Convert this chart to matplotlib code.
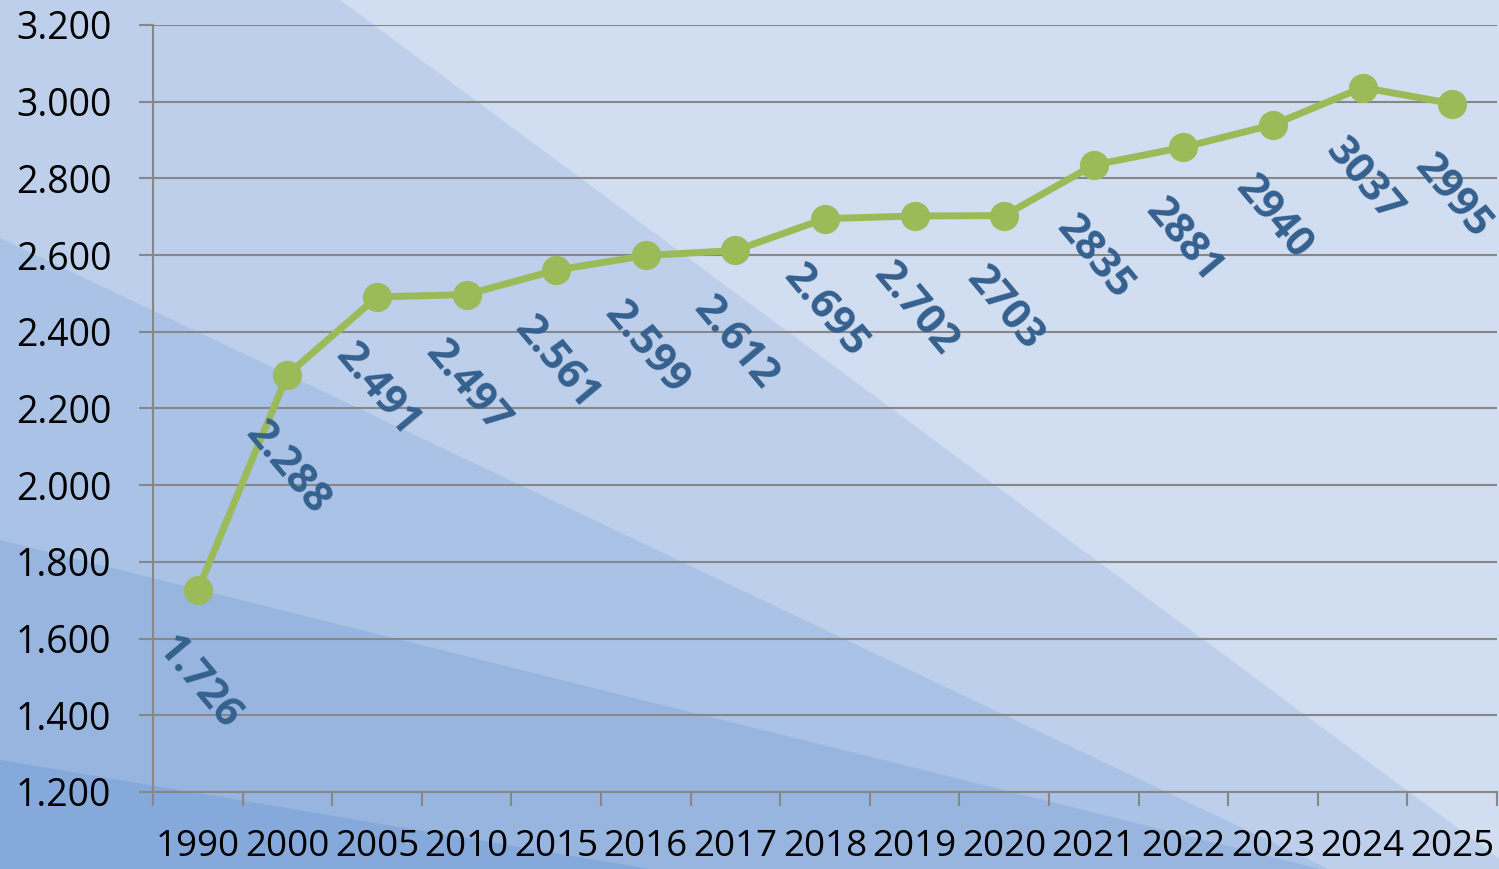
import matplotlib.pyplot as plt
from matplotlib.patches import Polygon
from matplotlib.ticker import FuncFormatter, FixedLocator

# Data
years = ['1990', '2000', '2005', '2010', '2015', '2016', '2017', '2018',
         '2019', '2020', '2021', '2022', '2023', '2024', '2025']
values = [1726, 2288, 2491, 2497, 2561, 2599, 2612, 2695,
          2702, 2703, 2835, 2881, 2940, 3037, 2995]
point_labels = ['1.726', '2.288', '2.491', '2.497', '2.561', '2.599', '2.612', '2.695',
                '2.702', '2703', '2835', '2881', '2940', '3037', '2995']

W, H = 1499, 869
fig = plt.figure(figsize=(W / 100, H / 100), dpi=100)

# Diagonal background bands, drawn in a full-figure axes (pixel coords, y down)
bg = fig.add_axes([0, 0, 1, 1], zorder=-1)
bg.set_xlim(0, W)
bg.set_ylim(H, 0)
bg.axis('off')
bands = [
    ('#d1ddf0', [(0, 0), (W, 0), (W, H), (0, H)]),
    ('#bdcfea', [(0, 0), (340, 0), (1513, H), (0, H)]),
    ('#a9c2e6', [(0, 238), (W, 950), (0, 950)]),
    ('#97b5de', [(0, 540), (1320, H), (0, H)]),
    ('#85a9da', [(0, 760), (650, H), (0, H)]),
]
for color, pts in bands:
    bg.add_patch(Polygon(pts, closed=True, facecolor=color, edgecolor='none'))

ax = fig.add_axes([153 / W, 1 - 792 / H, (1497 - 153) / W, (792 - 25) / H])
ax.set_facecolor('none')

x = range(len(years))
ax.plot(x, values, color='#9bbb59', linewidth=5, marker='o', markersize=20,
        zorder=3, clip_on=False)

for i, (v, lab) in enumerate(zip(values, point_labels)):
    ax.annotate(lab, (i, v), xytext=(0, -67), textcoords='offset points',
                ha='center', va='center', rotation=-50, rotation_mode='anchor',
                fontsize=30, fontweight='bold', color='#35618f',
                family='Open Sans', zorder=4)

ax.set_xlim(-0.5, len(years) - 0.5)
ax.set_ylim(1200, 3200)
ax.set_yticks(range(1200, 3201, 200))
ax.yaxis.set_major_formatter(FuncFormatter(lambda v, p: f'{v:,.0f}'.replace(',', '.')))
ax.grid(axis='y', color='#878787', linewidth=1.5)
ax.set_axisbelow(True)

ax.set_xticks(list(x))
ax.set_xticklabels(years)
ax.xaxis.set_minor_locator(FixedLocator([i - 0.5 for i in range(len(years) + 1)]))
ax.tick_params(axis='x', which='major', length=0, pad=27)
ax.tick_params(axis='x', which='minor', length=10, width=1.5, color='#878787')
ax.tick_params(axis='y', length=10, width=1.5, color='#878787', pad=20)

for lbl in ax.get_xticklabels():
    lbl.set_family('Open Sans')
    lbl.set_fontsize(26.5)
    lbl.set_color('black')
for lbl in ax.get_yticklabels():
    lbl.set_family('Open Sans')
    lbl.set_fontsize(27)
    lbl.set_color('black')

for side in ['top', 'right']:
    ax.spines[side].set_visible(False)
for side in ['left', 'bottom']:
    ax.spines[side].set_color('#878787')
    ax.spines[side].set_linewidth(1.5)

fig.savefig('out.png', dpi=100)
